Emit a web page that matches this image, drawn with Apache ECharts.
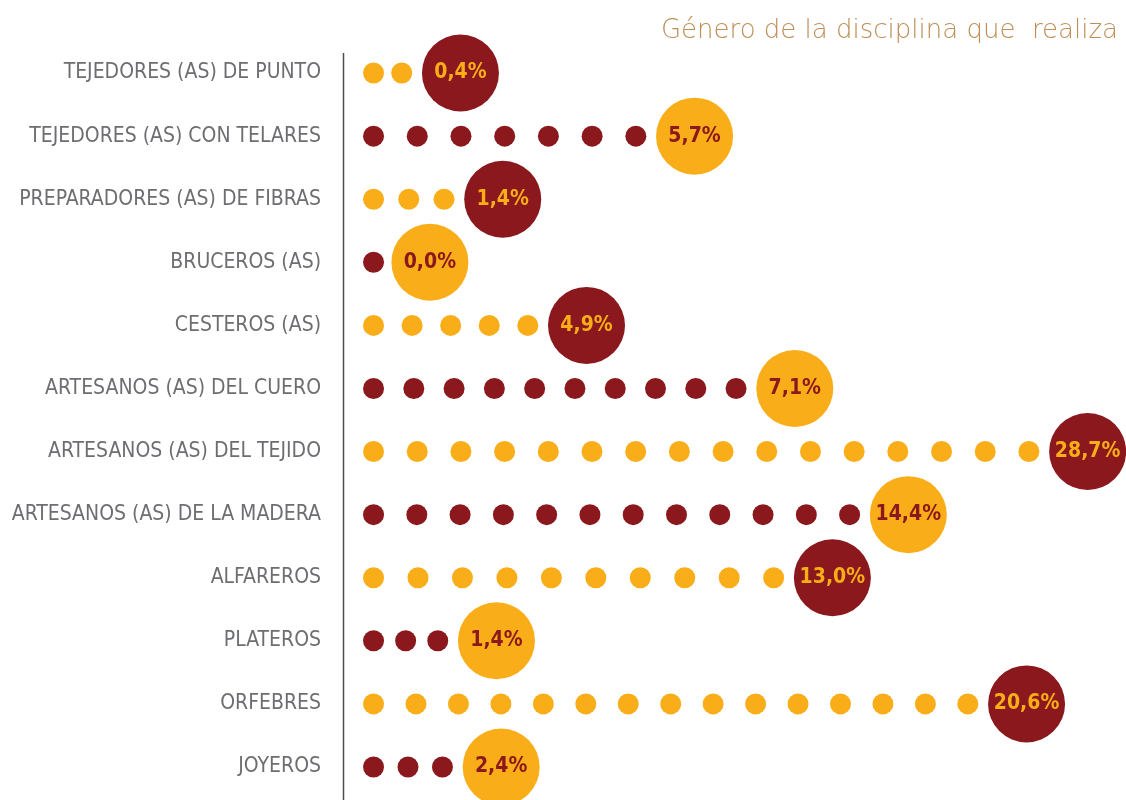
<!DOCTYPE html>
<html>
<head>
<meta charset="utf-8">
<script src="https://cdn.jsdelivr.net/npm/echarts@6/dist/echarts.min.js"></script>
<style>
  html, body { margin: 0; padding: 0; background: #fff; }
  #chart { width: 1126px; height: 800px; }
</style>
</head>
<body>
<div id="chart"></div>
<script>
(function() {
    'use strict';

    // oficios, de arriba hacia abajo
    var categories = [
        'TEJEDORES (AS) DE PUNTO',
        'TEJEDORES (AS) CON TELARES',
        'PREPARADORES (AS) DE FIBRAS',
        'BRUCEROS (AS)',
        'CESTEROS (AS)',
        'ARTESANOS (AS) DEL CUERO',
        'ARTESANOS (AS) DEL TEJIDO',
        'ARTESANOS (AS) DE LA MADERA',
        'ALFAREROS',
        'PLATEROS',
        'ORFEBRES',
        'JOYEROS'
    ];

    // porcentaje mostrado en el circulo grande
    var shares = [0.4, 5.7, 1.4, 0.0, 4.9, 7.1, 28.7, 14.4, 13.0, 1.4, 20.6, 2.4];

    // numero de puntos pequenos por fila
    var dotCounts = [2, 7, 3, 1, 5, 10, 16, 12, 10, 3, 15, 3];

    // posicion del circulo grande sobre el eje (escala 0-100)
    var bubbleAt = [15.0, 44.9, 20.4, 11.1, 31.1, 57.7, 95.1, 72.2, 62.5, 19.6, 87.3, 20.2];

    var YELLOW = '#F9AE19';
    var WINE = '#8A181D';
    var DOT_START = 3.9;
    var DOT_GAP = 7.5;

    var dotData = [];
    var bubbleData = [];

    categories.forEach(function(name, i) {
        var dark = i % 2 === 0;
        var dotColor = dark ? YELLOW : WINE;
        var n = dotCounts[i];
        var end = bubbleAt[i] - DOT_GAP;
        var step = n > 1 ? (end - DOT_START) / (n - 1) : 0;
        for (var k = 0; k < n; k++) {
            dotData.push({
                value: [DOT_START + k * step, i],
                itemStyle: { color: dotColor }
            });
        }
        bubbleData.push({
            value: [bubbleAt[i], i, shares[i]],
            itemStyle: { color: dark ? WINE : YELLOW },
            label: { color: dark ? YELLOW : WINE }
        });
    });

    var chart = echarts.init(document.getElementById('chart'), null, { renderer: 'canvas' });

    chart.setOption({
        animation: false,
        backgroundColor: '#fff',
        title: {
            text: 'Género de la disciplina que  realiza',
            right: 3,
            top: 13,
            textStyle: {
                fontFamily: 'DejaVu Sans',
                fontWeight: 200,
                fontSize: 26,
                color: '#BF8E57'
            }
        },
        grid: { left: 343, right: 0, top: 41.5, bottom: 1.5, outerBoundsMode: 'none' },
        xAxis: {
            type: 'value',
            min: 0,
            max: 100,
            show: false
        },
        yAxis: {
            type: 'category',
            inverse: true,
            data: categories,
            axisLine: { show: false },
            axisTick: { show: false },
            splitLine: { show: false },
            axisLabel: {
                margin: 22,
                fontFamily: 'DejaVu Sans Condensed',
                fontSize: 21,
                color: '#6D6E71'
            }
        },
        graphic: [{
            type: 'line',
            shape: { x1: 343.5, y1: 53, x2: 343.5, y2: 800 },
            style: { stroke: '#4D4D4F', lineWidth: 1.5 },
            silent: true
        }],
        series: [{
            name: 'puntos',
            type: 'scatter',
            symbol: 'circle',
            symbolSize: 21,
            itemStyle: { opacity: 1 },
            data: dotData,
            silent: true
        }, {
            name: 'porcentaje',
            type: 'scatter',
            symbol: 'circle',
            symbolSize: 77,
            itemStyle: { opacity: 1 },
            data: bubbleData,
            silent: true,
            label: {
                show: true,
                position: 'inside',
                fontFamily: 'DejaVu Sans Condensed',
                fontWeight: 'bold',
                fontSize: 21,
                formatter: function(p) {
                    return p.value[2].toFixed(1).replace('.', ',') + '%';
                }
            }
        }]
    });
})();
</script>
</body>
</html>
